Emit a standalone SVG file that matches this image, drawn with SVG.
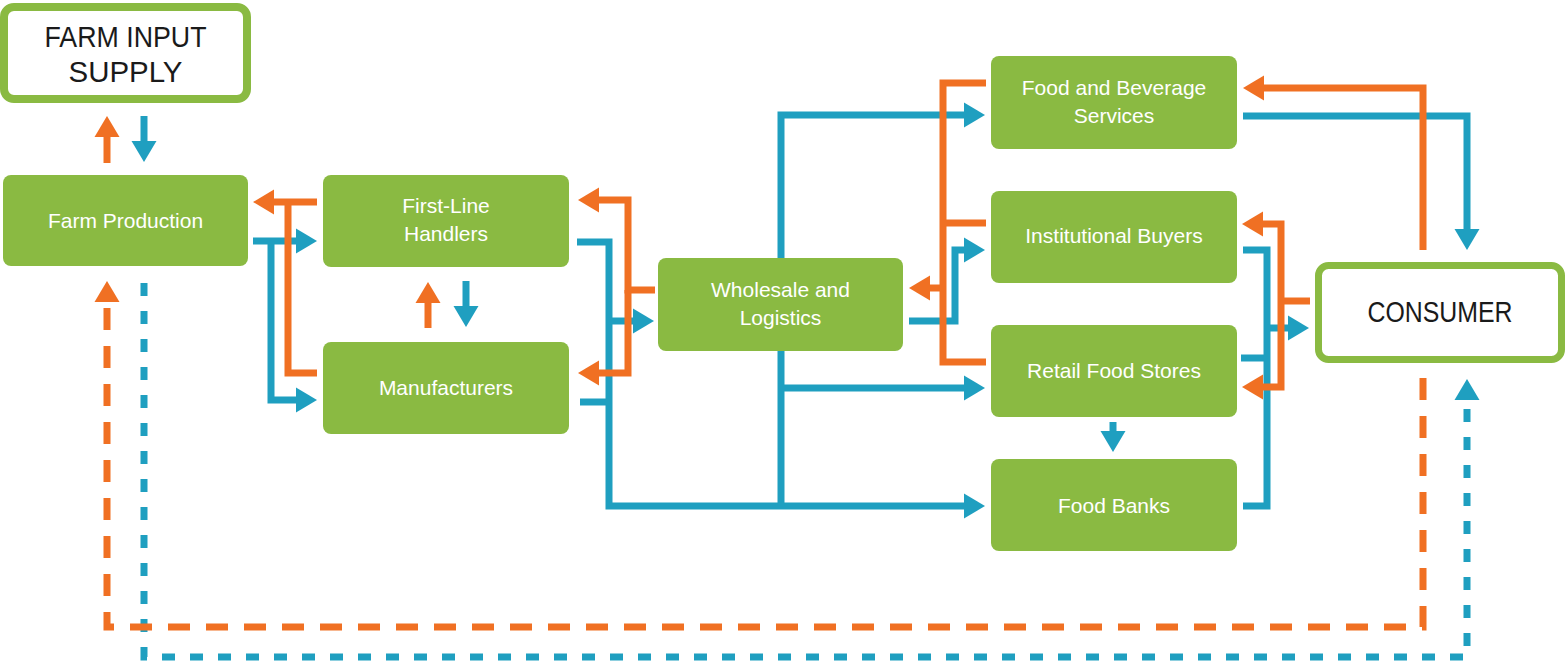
<svg xmlns="http://www.w3.org/2000/svg" width="1566" height="667" viewBox="0 0 1566 667">
<style>
.o{fill:none;stroke:#f07023;stroke-width:7;stroke-linejoin:miter}
.b{fill:none;stroke:#1f9fc0;stroke-width:7;stroke-linejoin:miter}
.g{fill:#8aba42}
.w{fill:#fff;stroke:#8aba42}
.t{font-family:"Liberation Sans",Arial,sans-serif;font-size:21px;fill:#fff;text-anchor:middle}
.k{font-family:"Liberation Sans",Arial,sans-serif;fill:#1a1a1a;text-anchor:middle}
</style>
<defs>
<marker id="ao" markerUnits="userSpaceOnUse" markerWidth="22" markerHeight="26" viewBox="0 -13 22 26" refX="0" refY="0" orient="auto-start-reverse" overflow="visible"><path d="M0,-12.5 L21,0 L0,12.5 z" fill="#f07023"/></marker>
<marker id="ab" markerUnits="userSpaceOnUse" markerWidth="22" markerHeight="26" viewBox="0 -13 22 26" refX="0" refY="0" orient="auto-start-reverse" overflow="visible"><path d="M0,-12.5 L21,0 L0,12.5 z" fill="#1f9fc0"/></marker>
</defs>
<g id="connectors">
<!-- blue -->
<path class="b" d="M144,116 V141" marker-end="url(#ab)"/>
<path class="b" d="M253,241 H296" marker-end="url(#ab)"/>
<path class="b" d="M271,241 V400 H296" marker-end="url(#ab)"/>
<path class="b" d="M466,281 V306" marker-end="url(#ab)"/>
<path class="b" d="M577,242 H609 V506 H964" marker-end="url(#ab)"/>
<path class="b" d="M580,402 H609"/>
<path class="b" d="M609,321 H633" marker-end="url(#ab)"/>
<path class="b" d="M964,115 H781 V506" marker-start="url(#ab)"/>
<path class="b" d="M781,388 H964" marker-end="url(#ab)"/>
<path class="b" d="M909,321 H955 V250 H964" marker-end="url(#ab)"/>
<path class="b" d="M1243,116 H1467 V229" marker-end="url(#ab)"/>
<path class="b" d="M1243,250 H1267 V506 H1243"/>
<path class="b" d="M1241,358 H1267"/>
<path class="b" d="M1267,328 H1288" marker-end="url(#ab)"/>
<path class="b" d="M1113,422 V431" marker-end="url(#ab)"/>
<path class="b" d="M144,283 V657 H1467 V400" stroke-dasharray="13 15" marker-end="url(#ab)"/>
<!-- orange -->
<path class="o" d="M107,163 V137" marker-end="url(#ao)"/>
<path class="o" d="M317,202 H274" marker-end="url(#ao)"/>
<path class="o" d="M317,373 H288 V202"/>
<path class="o" d="M428,328 V303" marker-end="url(#ao)"/>
<path class="o" d="M655,290 H628 V200 H599" marker-end="url(#ao)"/>
<path class="o" d="M628,290 V373 H599" marker-end="url(#ao)"/>
<path class="o" d="M986,83 H943 V362 H986"/>
<path class="o" d="M986,223 H943"/>
<path class="o" d="M943,288 H930" marker-end="url(#ao)"/>
<path class="o" d="M1423,250 V88 H1264" marker-end="url(#ao)"/>
<path class="o" d="M1310,301 H1281"/>
<path class="o" d="M1263,224 H1281 V387 H1263" marker-start="url(#ao)" marker-end="url(#ao)"/>
<path class="o" d="M1423,378 V627 H107 V302" stroke-dasharray="22 16" marker-end="url(#ao)"/>
</g>
<g id="farm-input-supply">
<rect class="w" x="4" y="7" width="243" height="92" rx="10" stroke-width="8"/>
<text class="k" x="125.5" y="47" font-size="29" textLength="162" lengthAdjust="spacingAndGlyphs">FARM INPUT</text>
<text class="k" x="125.5" y="82" font-size="29" textLength="114" lengthAdjust="spacingAndGlyphs">SUPPLY</text>
</g>
<g id="farm-production">
<rect class="g" x="3" y="175" width="245" height="91" rx="8"/>
<text class="t" x="125.5" y="228">Farm Production</text>
</g>
<g id="first-line-handlers">
<rect class="g" x="323" y="175" width="246" height="92" rx="8"/>
<text class="t" x="446" y="213">First-Line</text>
<text class="t" x="446" y="241">Handlers</text>
</g>
<g id="manufacturers">
<rect class="g" x="323" y="342" width="246" height="92" rx="8"/>
<text class="t" x="446" y="395">Manufacturers</text>
</g>
<g id="wholesale-logistics">
<rect class="g" x="658" y="258" width="245" height="93" rx="8"/>
<text class="t" x="780.5" y="297">Wholesale and</text>
<text class="t" x="780.5" y="325">Logistics</text>
</g>
<g id="food-beverage-services">
<rect class="g" x="991" y="56" width="246" height="93" rx="8"/>
<text class="t" x="1114" y="95">Food and Beverage</text>
<text class="t" x="1114" y="123">Services</text>
</g>
<g id="institutional-buyers">
<rect class="g" x="991" y="191" width="246" height="92" rx="8"/>
<text class="t" x="1114" y="243">Institutional Buyers</text>
</g>
<g id="retail-food-stores">
<rect class="g" x="991" y="325" width="246" height="92" rx="8"/>
<text class="t" x="1114" y="378">Retail Food Stores</text>
</g>
<g id="food-banks">
<rect class="g" x="991" y="459" width="246" height="92" rx="8"/>
<text class="t" x="1114" y="513">Food Banks</text>
</g>
<g id="consumer">
<rect class="w" x="1318.5" y="265.5" width="243" height="94" rx="10" stroke-width="7"/>
<text class="k" x="1440" y="322" font-size="29" textLength="145" lengthAdjust="spacingAndGlyphs">CONSUMER</text>
</g>
</svg>
